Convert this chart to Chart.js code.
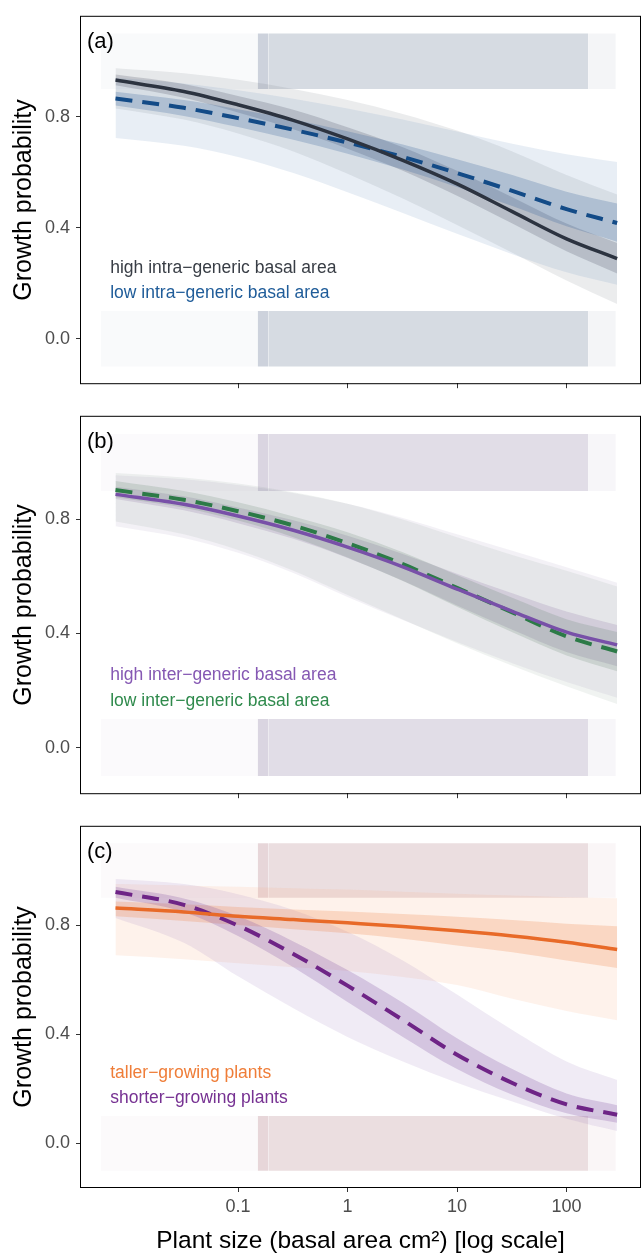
<!DOCTYPE html>
<html>
<head>
<meta charset="utf-8">
<script src="https://cdn.jsdelivr.net/npm/chart.js@4.4.1/dist/chart.umd.min.js"></script>
<style>
  html, body { margin: 0; padding: 0; background: #fff; }
  body { width: 641px; height: 1256px; position: relative; overflow: hidden; }
  .panel { position: absolute; left: 0; width: 641px; }
  canvas { display: block; }
</style>
</head>
<body>
<div class="panel" style="top:0px"><canvas id="panel-a" width="641" height="400"></canvas></div>
<div class="panel" style="top:400px"><canvas id="panel-b" width="641" height="410"></canvas></div>
<div class="panel" style="top:810px"><canvas id="panel-c" width="641" height="446"></canvas></div>

<script>
// plant sizes (basal area, cm2) the fitted curves are read at
const sizes = [0.0076, 0.032, 0.1, 0.32, 1, 3.2, 10, 32, 100, 290];
const xTicks = [0.1, 1, 10, 100];
const yTicks = [0, 0.4, 0.8];

// (a) intra-generic basal area
const highIntraFit     = [0.932, 0.891, 0.843, 0.787, 0.72, 0.643, 0.558, 0.458, 0.36, 0.289];
const highIntraInnerLo = [0.913, 0.868, 0.815, 0.755, 0.685, 0.605, 0.515, 0.415, 0.315, 0.235];
const highIntraInnerHi = [0.952, 0.918, 0.875, 0.825, 0.762, 0.69, 0.605, 0.51, 0.415, 0.345];
const highIntraOuterLo = [0.83, 0.79, 0.74, 0.675, 0.595, 0.505, 0.41, 0.31, 0.21, 0.125];
const highIntraOuterHi = [0.975, 0.957, 0.933, 0.9, 0.86, 0.81, 0.75, 0.675, 0.59, 0.52];
const lowIntraFit      = [0.866, 0.832, 0.795, 0.753, 0.707, 0.655, 0.597, 0.533, 0.467, 0.417];
const lowIntraInnerLo  = [0.84, 0.803, 0.763, 0.717, 0.667, 0.61, 0.547, 0.478, 0.405, 0.35];
const lowIntraInnerHi  = [0.89, 0.86, 0.827, 0.79, 0.748, 0.70, 0.647, 0.59, 0.53, 0.487];
const lowIntraOuterLo  = [0.723, 0.695, 0.655, 0.597, 0.528, 0.453, 0.378, 0.305, 0.24, 0.195];
const lowIntraOuterHi  = [0.94, 0.92, 0.895, 0.865, 0.83, 0.79, 0.747, 0.703, 0.665, 0.637];

// (b) inter-generic basal area
const highInterFit     = [0.888, 0.853, 0.812, 0.762, 0.703, 0.634, 0.556, 0.478, 0.405, 0.36];
const highInterInnerLo = [0.872, 0.832, 0.787, 0.732, 0.665, 0.585, 0.498, 0.413, 0.335, 0.285];
const highInterInnerHi = [0.915, 0.881, 0.842, 0.797, 0.743, 0.679, 0.61, 0.541, 0.477, 0.43];
const highInterOuterLo = [0.776, 0.735, 0.683, 0.612, 0.528, 0.447, 0.37, 0.296, 0.23, 0.175];
const highInterOuterHi = [0.955, 0.941, 0.921, 0.893, 0.855, 0.805, 0.748, 0.69, 0.632, 0.578];
const lowInterFit      = [0.903, 0.869, 0.829, 0.779, 0.717, 0.643, 0.56, 0.474, 0.39, 0.337];
const lowInterInnerLo  = [0.878, 0.841, 0.796, 0.738, 0.667, 0.584, 0.494, 0.404, 0.323, 0.268];
const lowInterInnerHi  = [0.935, 0.9, 0.86, 0.81, 0.755, 0.685, 0.605, 0.525, 0.45, 0.405];
const lowInterOuterLo  = [0.793, 0.748, 0.693, 0.62, 0.535, 0.449, 0.366, 0.287, 0.215, 0.153];
const lowInterOuterHi  = [0.963, 0.947, 0.926, 0.895, 0.855, 0.80, 0.738, 0.675, 0.62, 0.565];

// (c) plant stature
const tallerFit        = [0.862, 0.848, 0.832, 0.82, 0.808, 0.795, 0.779, 0.76, 0.737, 0.71];
const tallerInnerLo    = [0.832, 0.815, 0.80, 0.785, 0.77, 0.75, 0.725, 0.70, 0.67, 0.643];
const tallerInnerHi    = [0.886, 0.876, 0.866, 0.857, 0.85, 0.84, 0.83, 0.818, 0.805, 0.796];
const tallerOuterLo    = [0.689, 0.675, 0.66, 0.645, 0.632, 0.61, 0.58, 0.53, 0.485, 0.451];
const tallerOuterHi    = [0.95, 0.945, 0.94, 0.935, 0.93, 0.922, 0.915, 0.908, 0.902, 0.898];
const shorterFit       = [0.921, 0.874, 0.798, 0.694, 0.578, 0.452, 0.325, 0.221, 0.143, 0.105];
const shorterInnerLo   = [0.90, 0.848, 0.76, 0.645, 0.518, 0.39, 0.272, 0.178, 0.11, 0.075];
const shorterInnerHi   = [0.94, 0.897, 0.833, 0.74, 0.635, 0.515, 0.385, 0.272, 0.183, 0.14];
const shorterOuterLo   = [0.826, 0.735, 0.612, 0.495, 0.39, 0.30, 0.222, 0.153, 0.09, 0.045];
const shorterOuterHi   = [0.969, 0.95, 0.913, 0.855, 0.775, 0.67, 0.545, 0.415, 0.30, 0.232];

// jittered observations (grew = 1 on top, grew = 0 below), drawn as shaded strips
const jitterRows = [[0.9, 1.1], [-0.1, 0.1]];
const cloudEdges = [0.0056, 0.151, 0.19, 158, 282]; // sparse | stripe | dense | tail

// in-panel legend text
const noteX = 0.0068;
const noteY = [0.238, 0.147];

const FONT = '"Liberation Sans", Arial, Helvetica, sans-serif';

const pts = (ys) => sizes.map((x, i) => ({ x, y: ys[i] }));

const curve = (ys, color, dashed) => ({
  data: pts(ys),
  borderColor: color,
  borderWidth: dashed ? 4 : 3.5,
  borderDash: dashed ? [17, 10] : [],
  borderCapStyle: 'butt',
  pointRadius: 0,
  fill: false,
  cubicInterpolationMode: 'monotone',
});

const edge = (ys, fill, color) => ({
  data: pts(ys),
  borderColor: 'rgba(0,0,0,0)',
  borderWidth: 0,
  pointRadius: 0,
  fill: fill,
  backgroundColor: color,
  cubicInterpolationMode: 'monotone',
});

// a band is two datasets: upper edge filled down to the lower edge
const band = (lo, hi, color) => [edge(hi, '+1', color), edge(lo, false, color)];

function clouds(rgb) {
  const shades = [0.03, 0.27, 0.22, 0.06];
  const out = [];
  jitterRows.forEach(([lo, hi]) => {
    for (let i = 0; i < cloudEdges.length - 1; i++) {
      out.push({
        data: [{ x: cloudEdges[i], y: hi }, { x: cloudEdges[i + 1], y: hi }],
        borderColor: 'rgba(0,0,0,0)',
        borderWidth: 0,
        pointRadius: 0,
        fill: { value: lo },
        backgroundColor: `rgba(${rgb},${shades[i]})`,
      });
    }
  });
  return out;
}

const panelDecor = {
  id: 'panelDecor',
  afterDatasetsDraw(chart, args, opts) {
    const { ctx, chartArea: a, scales: { x, y } } = chart;
    ctx.save();
    ctx.strokeStyle = '#000';
    ctx.lineWidth = 1;
    ctx.strokeRect(a.left - 0.5, a.top - 0.5, a.right - a.left + 1, a.bottom - a.top + 1);
    ctx.fillStyle = '#000';
    ctx.font = '22px ' + FONT;
    ctx.textBaseline = 'alphabetic';
    ctx.fillText(opts.tag, a.left + 6, a.top + 31.5);
    ctx.font = '17.5px ' + FONT;
    opts.notes.forEach((n, i) => {
      ctx.fillStyle = n.color;
      ctx.fillText(n.text, x.getPixelForValue(noteX), y.getPixelForValue(noteY[i]));
    });
    ctx.restore();
  }
};

function makePanel(id, cfg) {
  return new Chart(document.getElementById(id), {
    type: 'line',
    data: { datasets: cfg.datasets },
    options: {
      responsive: false,
      animation: false,
      events: [],
      layout: { padding: { top: cfg.padTop, right: 1, left: 0, bottom: 0 } },
      plugins: {
        legend: { display: false },
        tooltip: { enabled: false },
        panelDecor: { tag: cfg.tag, notes: cfg.notes },
      },
      scales: {
        x: {
          type: 'logarithmic',
          min: 0.00368,
          max: 469,
          afterBuildTicks: (s) => { s.ticks = xTicks.map(v => ({ value: v })); },
          afterFit: (s) => { s.height = cfg.xHeight; },
          grid: { drawOnChartArea: false, drawTicks: true, tickLength: 5, color: '#333', lineWidth: 1 },
          border: { display: false },
          ticks: {
            padding: 4,
            color: '#4d4d4d',
            font: { family: FONT, size: 18 },
            maxRotation: 0,
            autoSkip: false,
            callback: (v) => cfg.xLabels ? String(v) : '',
          },
          title: {
            display: !!cfg.xLabels,
            text: 'Plant size (basal area cm²) [log scale]',
            color: '#000',
            font: { family: FONT, size: 24.5 },
            padding: { top: 0, bottom: 0 },
          },
        },
        y: {
          min: -0.16,
          max: 1.16,
          afterBuildTicks: (s) => { s.ticks = yTicks.map(v => ({ value: v })); },
          afterFit: (s) => { s.width = 81; },
          grid: { drawOnChartArea: false, drawTicks: true, tickLength: 5, color: '#333', lineWidth: 1 },
          border: { display: false },
          ticks: {
            padding: 6,
            color: '#4d4d4d',
            font: { family: FONT, size: 18 },
            callback: (v) => Number(v).toFixed(1),
          },
          title: {
            display: true,
            text: 'Growth probability',
            color: '#000',
            font: { family: FONT, size: 25 },
            padding: { top: 9, bottom: 0 },
          },
        },
      },
    },
    plugins: [panelDecor],
  });
}

// (a)
makePanel('panel-a', {
  tag: '(a)', padTop: 9, xHeight: 11, xLabels: false,
  notes: [
    { text: 'high intra\u2212generic basal area', color: '#383d45' },
    { text: 'low intra\u2212generic basal area', color: '#1f5c99' },
  ],
  datasets: [
    curve(highIntraFit, '#2c3340', false),
    curve(lowIntraFit, '#134b87', true),
    ...band(lowIntraInnerLo, lowIntraInnerHi, 'rgba(45,90,150,0.24)'),
    ...band(highIntraInnerLo, highIntraInnerHi, 'rgba(55,62,78,0.2)'),
    ...band(lowIntraOuterLo, lowIntraOuterHi, 'rgba(95,135,185,0.14)'),
    ...band(highIntraOuterLo, highIntraOuterHi, 'rgba(100,106,118,0.13)'),
    ...clouds('70,90,125'),
  ],
});

// (b)
makePanel('panel-b', {
  tag: '(b)', padTop: 15, xHeight: 15, xLabels: false,
  notes: [
    { text: 'high inter\u2212generic basal area', color: '#8558b3' },
    { text: 'low inter\u2212generic basal area', color: '#2f8a4c' },
  ],
  datasets: [
    curve(highInterFit, '#7850a8', false),
    curve(lowInterFit, '#2c7a47', true),
    ...band(lowInterInnerLo, lowInterInnerHi, 'rgba(70,110,85,0.17)'),
    ...band(highInterInnerLo, highInterInnerHi, 'rgba(110,85,140,0.17)'),
    ...band(lowInterOuterLo, lowInterOuterHi, 'rgba(110,140,120,0.1)'),
    ...band(highInterOuterLo, highInterOuterHi, 'rgba(140,115,165,0.1)'),
    ...clouds('120,100,145'),
  ],
});

// (c)
makePanel('panel-c', {
  tag: '(c)', padTop: 9, xHeight: 69, xLabels: true,
  notes: [
    { text: 'taller\u2212growing plants', color: '#ef7d38' },
    { text: 'shorter\u2212growing plants', color: '#763192' },
  ],
  datasets: [
    curve(tallerFit, '#e86a28', false),
    curve(shorterFit, '#6e2486', true),
    ...band(shorterInnerLo, shorterInnerHi, 'rgba(125,75,160,0.24)'),
    ...band(tallerInnerLo, tallerInnerHi, 'rgba(238,135,75,0.25)'),
    ...band(shorterOuterLo, shorterOuterHi, 'rgba(150,115,185,0.14)'),
    ...band(tallerOuterLo, tallerOuterHi, 'rgba(245,165,120,0.15)'),
    ...clouds('165,105,115'),
  ],
});
</script>
</body>
</html>
